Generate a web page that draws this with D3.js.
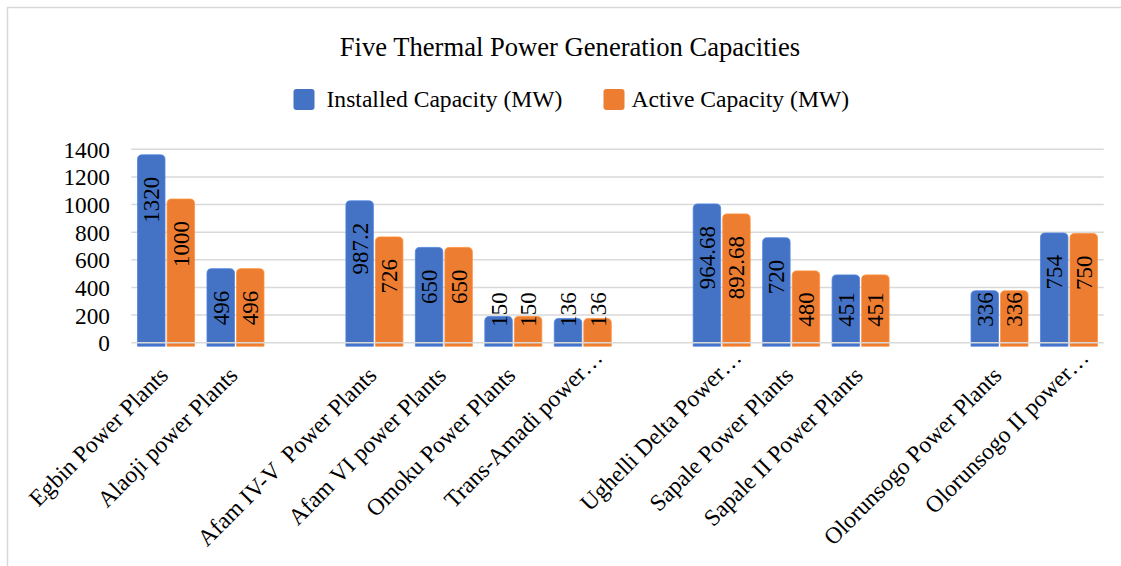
<!DOCTYPE html>
<html>
   <head>
      <script src="https://d3js.org/d3.v7.min.js"></script>
      <title> Thermal Power </title>
      <style>
          body { margin: 0; background: #fff; }
          svg { display: block; }
          svg text { font-family: "Liberation Serif", "Times New Roman", serif; }
      </style>
   </head>
   <body>
      <script>
            var categories = ["Egbin Power Plants", "Alaoji power Plants", "", "Afam IV-V  Power Plants",
                "Afam VI power Plants", "Omoku Power Plants", "Trans-Amadi power\u2026", "",
                "Ughelli Delta Power\u2026", "Sapale Power Plants", "Sapale II Power Plants", "",
                "Olorunsogo Power Plants", "Olorunsogo II power\u2026"];
            var installed = [1320, 496, null, 987.2, 650, 150, 136, null, 964.68, 720, 451, null, 336, 754];
            var active = [1000, 496, null, 726, 650, 150, 136, null, 892.68, 480, 451, null, 336, 750];
            var seriesNames = ["Installed Capacity (MW)", "Active Capacity (MW)"];
            var colors = ["#4472C4", "#ED7D31"];
            var yTicks = [0, 200, 400, 600, 800, 1000, 1200, 1400];

            var width = 1121, height = 566;
            var serif = "'Liberation Serif', 'Times New Roman', serif";
            var svg = d3.select("body").append("svg")
                .attr("width", width)
                .attr("height", height);

            // light chart border (left and top only visible)
            svg.append("path")
                .attr("d", "M7.5," + height + "V7.5H" + width)
                .attr("fill", "none")
                .attr("stroke", "#d9d9d9")
                .attr("stroke-width", 1.5);

            var x = d3.scaleBand()
                .domain(d3.range(categories.length))
                .range([131.3, 1103.7]);
            var xs = d3.scaleBand()
                .domain([0, 1])
                .range([-28.5, 28.5])
                .paddingInner(0.07);
            var y = d3.scaleLinear()
                .domain([0, 1400])
                .range([342.7, 149.3]);

            // gridlines
            svg.append("g").selectAll("line")
                .data(yTicks.filter(function(d) { return d > 0; }))
                .enter().append("line")
                .attr("x1", x.range()[0]).attr("x2", x.range()[1])
                .attr("y1", function(d) { return y(d); })
                .attr("y2", function(d) { return y(d); })
                .attr("stroke", "#d9d9d9")
                .attr("stroke-width", 1.5);

            // y tick labels
            svg.append("g").selectAll("text")
                .data(yTicks)
                .enter().append("text")
                .attr("x", 110)
                .attr("y", function(d) { return y(d) + 8.5; })
                .attr("text-anchor", "end")
                .attr("font-family", serif)
                .attr("font-size", "23.3px")
                .attr("fill", "#000")
                .text(function(d) { return d; });

            var bars = [];
            categories.forEach(function(c, i) {
                [installed, active].forEach(function(arr, s) {
                    if (arr[i] != null) bars.push({ i: i, s: s, v: arr[i] });
                });
            });

            // bar with rounded top, sitting slightly below the baseline
            function barPath(d) {
                var x0 = x(d.i) + x.bandwidth() / 2 + xs(d.s), w = xs.bandwidth();
                var top = y(d.v) - 5.5, bot = y(0) + 3.5, r = 4.5;
                return "M" + x0 + "," + bot + "V" + (top + r) +
                    "Q" + x0 + "," + top + " " + (x0 + r) + "," + top +
                    "H" + (x0 + w - r) +
                    "Q" + (x0 + w) + "," + top + " " + (x0 + w) + "," + (top + r) +
                    "V" + bot + "Z";
            }
            svg.append("g").selectAll("path")
                .data(bars)
                .enter().append("path")
                .attr("d", barPath)
                .attr("fill", function(d) { return colors[d.s]; })
                .attr("stroke", function(d) { return d3.color(colors[d.s]).brighter(0.4); })
                .attr("stroke-width", 0.8);

            // zero line drawn over the bars
            svg.append("line")
                .attr("x1", x.range()[0]).attr("x2", x.range()[1])
                .attr("y1", y(0)).attr("y2", y(0))
                .attr("stroke", "#d9d9d9")
                .attr("stroke-width", 1.5);

            // value labels, rotated, inside end (kept above the base)
            svg.append("g").selectAll("text")
                .data(bars)
                .enter().append("text")
                .attr("font-family", serif)
                .attr("font-size", "23px")
                .attr("text-anchor", "end")
                .attr("fill", "#000")
                .text(function(d) { return String(d.v); })
                .each(function(d) {
                    var len = this.getComputedTextLength();
                    var cx = x(d.i) + x.bandwidth() / 2 + xs(d.s) + xs.bandwidth() / 2 + 8;
                    var ty = Math.min(y(d.v) + 16.5, y(0) - 16 - len);
                    d3.select(this).attr("transform", "translate(" + cx + "," + ty + ") rotate(-90)");
                });

            // category labels (truncated ones sit a bit further along)
            svg.append("g").selectAll("text")
                .data(categories)
                .enter().append("text")
                .attr("font-family", serif)
                .attr("font-size", "23.5px")
                .attr("text-anchor", "end")
                .attr("fill", "#000")
                .style("white-space", "pre")
                .attr("transform", function(d, i) {
                    return "translate(" + (x(i) + x.bandwidth() / 2 + 3.5) + "," + (y(0) + 34) + ") rotate(-45)";
                })
                .attr("dx", function(d) { return d.slice(-1) == "\u2026" ? 25 : 0; })
                .text(function(d) { return d; });

            // title
            svg.append("text")
                .attr("x", 570)
                .attr("y", 56)
                .attr("text-anchor", "middle")
                .attr("font-family", serif)
                .attr("font-size", "26.6px")
                .attr("fill", "#000")
                .text("Five Thermal Power Generation Capacities");

            // legend
            var legendX = [293.5, 603.5];
            var lg = svg.append("g").selectAll("g")
                .data(seriesNames)
                .enter().append("g")
                .attr("transform", function(d, i) { return "translate(" + legendX[i] + ",0)"; });
            lg.append("rect")
                .attr("x", 0).attr("y", 89)
                .attr("width", 21).attr("height", 21)
                .attr("rx", 3)
                .attr("fill", function(d, i) { return colors[i]; });
            lg.append("text")
                .attr("x", function(d, i) { return i == 0 ? 33 : 28; })
                .attr("y", 107)
                .attr("font-family", serif)
                .attr("font-size", "23.6px")
                .attr("fill", "#000")
                .text(function(d) { return d; });
      </script>
   </body>
</html>
